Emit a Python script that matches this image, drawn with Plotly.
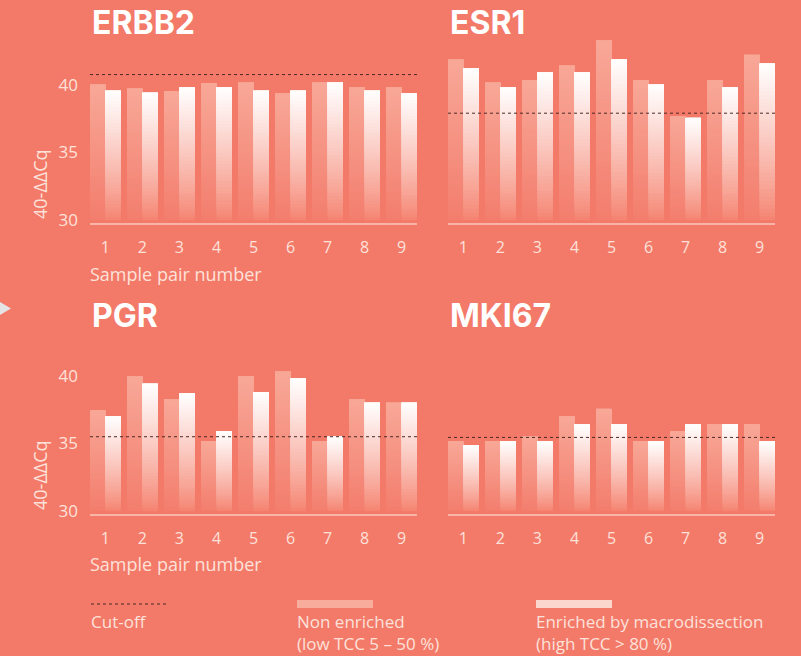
import plotly.graph_objects as go

# ---------------- data ----------------
samples = [1, 2, 3, 4, 5, 6, 7, 8, 9]
genes = ["ERBB2", "ESR1", "PGR", "MKI67"]

erbb2_non = [40.0, 39.7, 39.5, 40.1, 40.15, 39.35, 40.15, 39.8, 39.8]
erbb2_enr = [39.55, 39.4, 39.8, 39.8, 39.55, 39.55, 40.15, 39.55, 39.35]
esr1_non = [41.85, 40.15, 40.35, 41.4, 43.25, 40.35, 37.65, 40.35, 42.2]
esr1_enr = [41.2, 39.8, 40.9, 40.9, 41.85, 40.0, 37.55, 39.8, 41.55]
pgr_non = [37.45, 39.95, 38.25, 35.15, 39.95, 40.3, 35.15, 38.25, 38.0]
pgr_enr = [37.0, 39.4, 38.7, 35.9, 38.8, 39.8, 35.5, 38.0, 38.0]
mki67_non = [35.15, 35.15, 35.5, 37.0, 37.55, 35.15, 35.9, 36.4, 36.4]
mki67_enr = [34.85, 35.15, 35.15, 36.4, 36.4, 35.15, 36.4, 36.4, 35.15]
cutoffs = [40.75, 37.9, 35.5, 35.45]

y_ticks = [30, 35, 40]
y_base = 30
y_min = 29.8
y_top = 43.3

non_values = [erbb2_non, esr1_non, pgr_non, mki67_non]
enr_values = [erbb2_enr, esr1_enr, pgr_enr, mki67_enr]

legend_cutoff = "Cut-off"
legend_non = "Non enriched<br>(low TCC 5 – 50 %)"
legend_enr = "Enriched by macrodissection<br>(high TCC > 80 %)"
y_title = "40-ΔΔCq"
x_title = "Sample pair number"

# ---------------- style ----------------
W, H = 801, 656
BG = "#F37969"
TXT = "#FDE2DA"
FONT = "Open Sans"
N_SEG = 40


def px(x):
    return x / W


def py(y):
    return 1 - y / H


def hex2rgb(h):
    h = h.lstrip("#")
    return tuple(int(h[i:i + 2], 16) for i in (0, 2, 4))


def mix(c0, c1, t):
    a, b = hex2rgb(c0), hex2rgb(c1)
    return "rgb(%d,%d,%d)" % tuple(round(a[i] + (b[i] - a[i]) * t) for i in range(3))


grad = {
    "non": ("#F37D6D", "#F8A898", 1.0),
    "enr": ("#F5826F", "#FFFFFF", 0.85),
}

x_doms = [[px(90), px(417)], [px(448), px(775)]]
y_doms = [[py(223), py(40)], [py(514), py(331)]]

fig = go.Figure()

for k in range(4):
    r, c = divmod(k, 2)
    suffix = "" if k == 0 else str(k + 1)
    xa, ya = "x" + suffix, "y" + suffix
    for key, vals in (("non", non_values[k]), ("enr", enr_values[k])):
        c0, c1, gam = grad[key]
        for i in range(N_SEG):
            t = ((i + 0.5) / N_SEG) ** gam
            frac = i / N_SEG
            bases = [y_base + (v - y_base) * frac for v in vals]
            fig.add_trace(go.Bar(
                x=samples, y=[v - b for v, b in zip(vals, bases)],
                base=bases,
                offsetgroup=key,
                marker=dict(color=mix(c0, c1, t), line=dict(width=0)),
                xaxis=xa, yaxis=ya, showlegend=False, hoverinfo="skip",
            ))
    fig.layout["xaxis" + suffix] = dict(
        domain=x_doms[c], anchor=ya, range=[0.585, 9.415],
        tickmode="array", tickvals=samples, ticktext=[str(s) for s in samples],
        showgrid=False, zeroline=False, showline=True,
        linecolor="#F9B4A8", linewidth=2, ticks="", automargin=False,
        ticklabelstandoff=9,
        tickfont=dict(family=FONT, size=16, color=TXT),
    )
    fig.layout["yaxis" + suffix] = dict(
        domain=y_doms[r], anchor=xa, range=[y_min, y_top],
        tickmode="array", tickvals=y_ticks, showgrid=False, zeroline=False,
        showline=False, ticks="", showticklabels=(c == 0), automargin=False,
        ticklabelstandoff=11,
        tickfont=dict(family=FONT, size=17, color=TXT),
    )
    fig.add_shape(type="line", xref=xa + " domain", yref=ya,
                  x0=0, x1=1, y0=cutoffs[k], y1=cutoffs[k],
                  line=dict(color="#4A2A26", width=1, dash="dot"))
    fig.add_annotation(text="<b>%s</b>" % genes[k], xref="paper", yref="paper",
                       x=x_doms[c][0], y=py(22 if r == 0 else 315),
                       xanchor="left", yanchor="middle", showarrow=False,
                       font=dict(family="Inter", size=32, color="#FFFFFF"))
    if c == 0:
        fig.add_annotation(text=y_title, xref="paper", yref="paper",
                           x=px(40), y=py(184 if r == 0 else 475), textangle=-90,
                           xanchor="center", yanchor="middle", showarrow=False,
                           font=dict(family=FONT, size=18, color=TXT))
        fig.add_annotation(text=x_title, xref="paper", yref="paper",
                           x=px(88), y=py(274 if r == 0 else 564),
                           xanchor="left", yanchor="middle", showarrow=False,
                           font=dict(family=FONT, size=18, color=TXT))

# ---------------- legend ----------------
fig.add_shape(type="line", xref="paper", yref="paper", x0=px(91), x1=px(168),
              y0=py(604), y1=py(604), line=dict(color="#4A2A26", width=1, dash="dot"))
fig.add_shape(type="rect", xref="paper", yref="paper", x0=px(297), x1=px(373),
              y0=py(608), y1=py(600), line=dict(width=0), fillcolor="#F8AC9C")
fig.add_shape(type="rect", xref="paper", yref="paper", x0=px(536), x1=px(612),
              y0=py(608), y1=py(600), line=dict(width=0), fillcolor="#FBD6CC")
for x0, txt in ((91, legend_cutoff), (297, legend_non), (536, legend_enr)):
    fig.add_annotation(text=txt, xref="paper", yref="paper", x=px(x0 - 2), y=py(608),
                       xanchor="left", yanchor="top", align="left", showarrow=False,
                       font=dict(family=FONT, size=17, color=TXT))

# carousel arrow at the left edge
fig.add_shape(type="path", xref="paper", yref="paper",
              path="M 0 %f L %f %f L 0 %f Z" % (py(302), px(11), py(308.5), py(315)),
              line=dict(width=0), fillcolor="#E4E4E4")

fig.update_layout(
    width=W, height=H,
    margin=dict(l=0, r=0, t=0, b=0, pad=0, autoexpand=False),
    paper_bgcolor=BG, plot_bgcolor=BG,
    barmode="group", bargap=0.17, bargroupgap=0,
    showlegend=False,
)

post = (
    "document.documentElement.style.margin='0';"
    "document.body.style.margin='0';"
    "document.body.style.overflow='hidden';"
    "document.body.style.background='%s';" % BG
)

fig.write_html("out.html", config={"displayModeBar": False}, post_script=post)
